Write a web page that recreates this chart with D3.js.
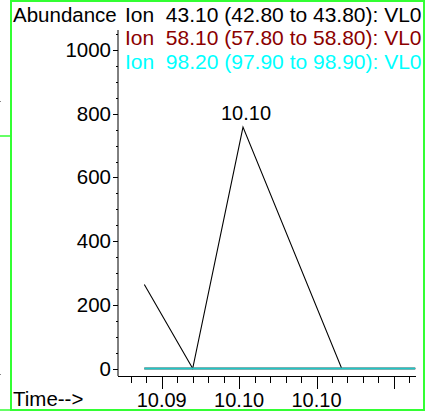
<!DOCTYPE html>
<html><head><meta charset="utf-8">
<script src="https://cdn.jsdelivr.net/npm/d3@7"></script>
<style>
html,body{margin:0;padding:0;background:#fff;}
svg{display:block;}
text{font-family:"Liberation Sans",Arial,sans-serif;white-space:pre;}
</style></head>
<body>
<script>
// ---- data ----
const times = [10.0911, 10.0936, 10.0962, 10.1013, 10.1051];
const ion43 = [264, 0, 758, 0, 0];
const ion58 = [0, 0, 0, 0, 0];
const ion98 = [0, 0, 0, 0, 0];
const seriesNames = ["Ion  43.10 (42.80 to 43.80): VL0", "Ion  58.10 (57.80 to 58.80): VL0", "Ion  98.20 (97.90 to 98.90): VL0"];
const seriesColors = ["#000000", "#8b0000", "#00ffff"];
const yTicks = [0, 200, 400, 600, 800, 1000];
const xMajorTicks = [10.092, 10.096, 10.100, 10.104];
const xTickLabels = ["10.09", "10.10", "10.10", ""];
const peakLabel = "10.10";

const W = 427, H = 413;
const svg = d3.select("body").append("svg").attr("width", W).attr("height", H);

// frames
const green = "#33ff33";
svg.append("rect").attr("x", 11).attr("y", 1).attr("width", 413).attr("height", 409)
  .attr("fill", "none").attr("stroke", green).attr("stroke-width", 2);
svg.append("line").attr("x1", 0).attr("x2", 11).attr("y1", 136).attr("y2", 136).attr("stroke", green).attr("stroke-width", 1.5);
svg.append("line").attr("x1", 0).attr("x2", 11).attr("y1", 410).attr("y2", 410).attr("stroke", green).attr("stroke-width", 1.5);
svg.append("rect").attr("x", 0).attr("y", 101).attr("width", 1).attr("height", 1).attr("fill", "#888");
svg.append("rect").attr("x", 0).attr("y", 374).attr("width", 1).attr("height", 1).attr("fill", "#888");

// scales
const x = d3.scaleLinear().domain([10.08974, 10.10514]).range([118, 416]);
const y = d3.scaleLinear().domain([-23.5, 1063]).range([376, 30]);

// y axis
svg.append("line").attr("x1", 118).attr("x2", 118).attr("y1", 30).attr("y2", 376).attr("stroke", "#000").attr("stroke-width", 1);
const yMinor = d3.range(0, 1051, 50);
svg.selectAll(".ymin").data(yMinor).enter().append("line")
  .attr("x1", 116).attr("x2", 118).attr("y1", d => Math.round(y(d)) + 0.5).attr("y2", d => Math.round(y(d)) + 0.5)
  .attr("stroke", "#000").attr("stroke-width", 1);
svg.selectAll(".ymaj").data(yTicks).enter().append("line")
  .attr("x1", 113).attr("x2", 118).attr("y1", d => Math.round(y(d)) + 0.5).attr("y2", d => Math.round(y(d)) + 0.5)
  .attr("stroke", "#000").attr("stroke-width", 1);
svg.selectAll(".ylab").data(yTicks).enter().append("text")
  .attr("x", 111).attr("y", d => y(d) + 7).attr("text-anchor", "end")
  .attr("font-size", 20.5).attr("fill", "#000").text(d => d);

// x axis
svg.append("line").attr("x1", 118).attr("x2", 416).attr("y1", 376.5).attr("y2", 376.5).attr("stroke", "#000").attr("stroke-width", 1);
const step = 0.0008;
const xMinor = d3.range(-2, 17).map(i => 10.092 + i * step);
svg.selectAll(".xmin").data(xMinor).enter().append("line")
  .attr("x1", d => Math.round(x(d)) + 0.5).attr("x2", d => Math.round(x(d)) + 0.5)
  .attr("y1", 376).attr("y2", 383).attr("stroke", "#000").attr("stroke-width", 1);
svg.selectAll(".xmaj").data(xMajorTicks).enter().append("line")
  .attr("x1", d => Math.round(x(d)) + 0.5).attr("x2", d => Math.round(x(d)) + 0.5)
  .attr("y1", 376).attr("y2", 389).attr("stroke", "#000").attr("stroke-width", 1);
svg.selectAll(".xlab").data(xMajorTicks).enter().append("text")
  .attr("x", d => x(d)).attr("y", 407).attr("text-anchor", "middle")
  .attr("font-size", 20).attr("fill", "#000").text((d, i) => xTickLabels[i]);

// lines
const line = d3.line().x((d, i) => x(times[i])).y(d => y(d));
svg.append("path").datum(ion43).attr("d", line).attr("fill", "none").attr("stroke", seriesColors[0]).attr("stroke-width", 1.1);
svg.append("path").datum(ion58).attr("d", line).attr("fill", "none").attr("stroke", seriesColors[1]).attr("stroke-width", 2);
svg.append("path").datum(ion98).attr("d", line).attr("fill", "none").attr("stroke", seriesColors[2]).attr("stroke-width", 2).attr("stroke-opacity", 0.78);

// peak label
const pk = ion43.indexOf(d3.max(ion43));
svg.append("text").attr("x", x(times[pk]) + 3).attr("y", 120).attr("text-anchor", "middle")
  .attr("font-size", 20).attr("fill", "#000").text(peakLabel);

// titles
svg.append("text").attr("x", 13).attr("y", 22).attr("font-size", 20.5).attr("fill", "#000").text("Abundance");
svg.append("text").attr("x", 13).attr("y", 406).attr("font-size", 20.5).attr("fill", "#000").text("Time-->");

// legend
svg.selectAll(".leg").data(seriesNames).enter().append("text")
  .attr("x", 125).attr("y", (d, i) => 22 + i * 23.3)
  .attr("font-size", 21).attr("fill", (d, i) => seriesColors[i]).text(d => d);
</script>
</body></html>
